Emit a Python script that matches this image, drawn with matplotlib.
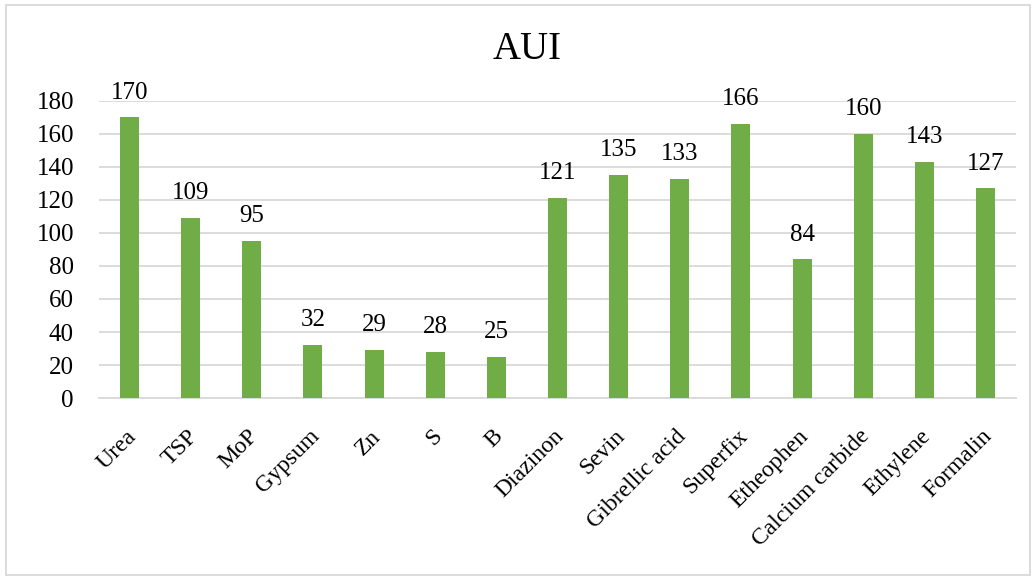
import matplotlib.pyplot as plt
from matplotlib.patches import Rectangle
from matplotlib.transforms import ScaledTranslation

names = ['Urea', 'TSP', 'MoP', 'Gypsum', 'Zn', 'S', 'B', 'Diazinon', 'Sevin',
         'Gibrellic acid', 'Superfix', 'Etheophen', 'Calcium carbide', 'Ethylene', 'Formalin']
aui = [170, 109, 95, 32, 29, 28, 25, 121, 135, 133, 166, 84, 160, 143, 127]
yticks = [0, 20, 40, 60, 80, 100, 120, 140, 160, 180]

plt.rcParams['font.family'] = ['Liberation Serif', 'DejaVu Serif']

fig = plt.figure(figsize=(10.34, 5.78), dpi=100)
ax = fig.add_axes([0.0957, 0.3114, 0.8869, 0.5139])

x = list(range(len(names)))
ax.bar(x, aui, width=0.31, color='#70AD47', zorder=3)
for i in range(len(aui)):
    ax.annotate(str(aui[i]), (x[i], aui[i]), xytext=(0, 10), textcoords='offset points',
                ha='center', va='bottom', fontsize=18)

ax.set_xlim(-0.5, len(names) - 0.5)
ax.set_ylim(0, 180)
ax.set_yticks(yticks)
ax.set_yticklabels([str(v) for v in yticks], fontsize=18)
ax.set_xticks(x)
ax.set_xticklabels(names, fontsize=17, rotation=45, ha='right', rotation_mode='anchor')
ax.tick_params(axis='both', length=0)
ax.tick_params(axis='x', pad=20)
ax.tick_params(axis='y', pad=18)
# nudge the rotated labels a bit left
shift = ScaledTranslation(-4 / 100, 0, fig.dpi_scale_trans)
for lbl in ax.get_xticklabels():
    lbl.set_transform(lbl.get_transform() + shift)
ax.grid(axis='y', color='#d9d9d9', linewidth=1.3, zorder=0)
for s in ['top', 'right', 'left']:
    ax.spines[s].set_visible(False)
ax.spines['bottom'].set_color('#d9d9d9')
ax.spines['bottom'].set_linewidth(1.3)

fig.text(0.51, 0.915, 'AUI', ha='center', va='center', fontsize=28)

fig.patches.append(Rectangle((6 / 1034, 3 / 578), 1024 / 1034, 570 / 578, transform=fig.transFigure,
                             fill=False, edgecolor='#d9d9d9', linewidth=1.3))

fig.savefig('out.png', dpi=100)
